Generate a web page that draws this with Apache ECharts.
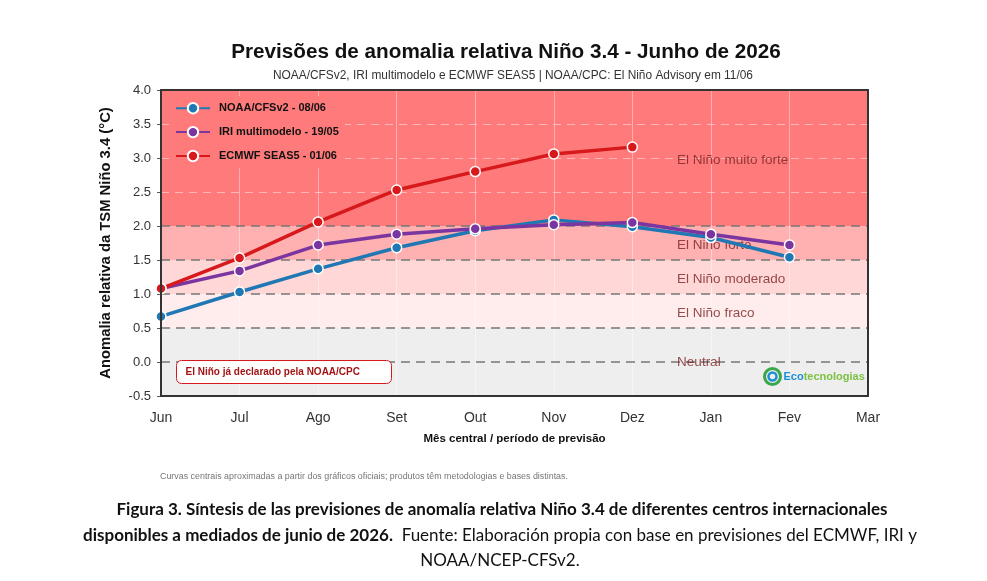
<!DOCTYPE html>
<html>
<head>
<meta charset="utf-8">
<script src="https://cdn.jsdelivr.net/npm/echarts@6/dist/echarts.min.js"></script>
<style>
  html, body { margin: 0; padding: 0; background: #fff; }
  #chart { width: 987px; height: 581px; }
</style>
</head>
<body>
<div id="chart"></div>
<script>
// meses centrais (eixo x)
const months = ['Jun', 'Jul', 'Ago', 'Set', 'Out', 'Nov', 'Dez', 'Jan', 'Fev', 'Mar'];

const noaaCfs = [0.67, 1.03, 1.37, 1.68, 1.93, 2.09, 1.99, 1.83, 1.54];
const iriMulti = [1.08, 1.34, 1.72, 1.88, 1.96, 2.02, 2.05, 1.88, 1.72];
const ecmwf = [1.08, 1.53, 2.06, 2.53, 2.80, 3.06, 3.16];

// faixas de intensidade
const bandNames = ['Neutral', 'El Niño fraco', 'El Niño moderado', 'El Niño forte', 'El Niño muito forte'];
const bandLow = [-0.5, 0.5, 1.0, 1.5, 2.0];
const bandHigh = [0.5, 1.0, 1.5, 2.0, 4.0];
const bandLabelY = [-0.01, 0.72, 1.22, 1.72, 2.97];
const bandLabelX = 6.57;
const thresholds = [0, 0.5, 1.0, 1.5, 2.0];
const faintY = [2.5, 3.0, 3.5];

const bandColors = ['#eeeeee', '#ffeded', '#ffd7d7', '#ffb0b0', '#ff7b7b'];

const chart = echarts.init(document.getElementById('chart'));

const pairs = arr => arr.map((v, i) => [i, v]);

const lineSeries = (name, data, color) => ({
  name,
  type: 'line',
  data: pairs(data),
  z: 5,
  symbol: 'circle',
  symbolSize: 10,
  lineStyle: { color, width: 3.5 },
  itemStyle: { color, borderColor: '#fff', borderWidth: 1.5 },
  emphasis: { disabled: true }
});

// eixos extras só para a moldura do gráfico
const frameAxis = { show: true, onZero: false, lineStyle: { color: '#333', width: 2 } };
const frame = (type, position, min, max) => ({
  type, position, min, max,
  axisLine: frameAxis, axisTick: { show: false }, axisLabel: { show: false }, splitLine: { show: false }, z: 20
});

const option = {
  backgroundColor: '#fff',
  animation: false,
  title: [
    {
      text: 'Previsões de anomalia relativa Niño 3.4 - Junho de 2026',
      left: 501, top: 37, textAlign: 'center',
      textStyle: { fontFamily: 'Liberation Sans', fontSize: 20.7, fontWeight: 'bold', color: '#111' }
    },
    {
      text: 'NOAA/CFSv2, IRI multimodelo e ECMWF SEAS5 | NOAA/CPC: El Niño Advisory em 11/06',
      left: 508, top: 65, textAlign: 'center',
      textStyle: { fontFamily: 'Liberation Sans', fontSize: 11.9, fontWeight: 'normal', color: '#333' }
    }
  ],
  grid: { left: 161, right: 119, top: 90, bottom: 185 },
  legend: {
    left: 170, top: 96, orient: 'vertical',
    padding: [6, 6, 6, 5],
    backgroundColor: '#ff7b7b',
    itemWidth: 34, itemHeight: 13, itemGap: 11.5,
    data: ['NOAA/CFSv2 - 08/06', 'IRI multimodelo - 19/05', 'ECMWF SEAS5 - 01/06'],
    textStyle: { fontFamily: 'Liberation Sans', fontSize: 11, fontWeight: 'bold', color: '#111', padding: [0, 0, 0, 4] }
  },
  xAxis: [
    {
      type: 'value', min: 0, max: 9, interval: 1,
      name: 'Mês central / período de previsão',
      nameLocation: 'middle', nameGap: 37,
      nameTextStyle: { fontFamily: 'Liberation Sans', fontSize: 11.5, fontWeight: 'bold', color: '#111' },
      axisLine: { show: false, onZero: false },
      axisTick: { show: false },
      axisLabel: { formatter: v => months[v] || '', fontFamily: 'Liberation Sans', fontSize: 14, color: '#333', margin: 15 },
      splitLine: { show: false }
    },
    frame('value', 'top', 0, 9),
    frame('value', 'bottom', 0, 9)
  ],
  yAxis: [
    {
      type: 'value', min: -0.5, max: 4.0, interval: 0.5,
      name: 'Anomalia relativa da TSM Niño 3.4 (°C)',
      nameLocation: 'middle', nameGap: 48, nameRotate: 90,
      nameTextStyle: { fontFamily: 'Liberation Sans', fontSize: 14.8, fontWeight: 'bold', color: '#111' },
      axisLine: { show: false, onZero: false },
      axisTick: { show: true, length: 4, lineStyle: { color: '#555' } },
      axisLabel: { formatter: v => v.toFixed(1), fontFamily: 'Liberation Sans', fontSize: 13, color: '#333', margin: 10 },
      splitLine: { show: false }
    },
    frame('value', 'right', -0.5, 4.0),
    frame('value', 'left', -0.5, 4.0)
  ],
  series: [
    {
      name: 'faixas',
      type: 'line',
      data: [],
      silent: true,
      z: 1,
      markArea: {
        silent: true,
        z: 1,
        data: bandLow.map((lo, i) => [
          { yAxis: lo, itemStyle: { color: bandColors[i] } },
          { yAxis: bandHigh[i] }
        ])
      }
    },
    {
      name: 'grade',
      type: 'line',
      data: [],
      silent: true,
      z: 2,
      markLine: {
        silent: true,
        z: 2,
        symbol: 'none',
        label: { show: false },
        data: [
          ...months.slice(1, -1).map((m, i) => ({ xAxis: i + 1, lineStyle: { color: 'rgba(255,255,255,0.4)', type: 'solid', width: 1 } })),
          ...faintY.map(v => ({ yAxis: v, lineStyle: { color: 'rgba(255,255,255,0.45)', type: [8, 6], width: 1 } }))
        ]
      }
    },
    {
      name: 'limiares',
      type: 'line',
      data: [],
      silent: true,
      z: 2,
      markLine: {
        silent: true,
        z: 2,
        symbol: 'none',
        label: { show: false },
        lineStyle: { color: '#777', type: [9, 6], width: 1.5 },
        data: thresholds.map(t => ({ yAxis: t }))
      }
    },
    {
      name: 'rotulos',
      type: 'scatter',
      silent: true,
      z: 3,
      symbolSize: 0,
      data: bandNames.map((n, i) => ({ value: [bandLabelX, bandLabelY[i]], name: n })),
      label: {
        show: true, position: 'right', distance: 0,
        formatter: p => p.name,
        fontFamily: 'Liberation Sans', fontSize: 13.5, color: '#7a2323'
      }
    },
    lineSeries('NOAA/CFSv2 - 08/06', noaaCfs, '#1f78b4'),
    lineSeries('IRI multimodelo - 19/05', iriMulti, '#7b35a0'),
    lineSeries('ECMWF SEAS5 - 01/06', ecmwf, '#d7191c')
  ],
  graphic: [
    {
      type: 'group', left: 176, top: 360,
      children: [
        { type: 'rect', z: 100, shape: { x: 0, y: 0, width: 215, height: 23, r: 5 }, style: { fill: '#fff', stroke: '#d7191c', lineWidth: 1 } },
        { type: 'text', z: 101, x: 9, y: 12, style: { text: 'El Niño já declarado pela NOAA/CPC', fontFamily: 'Liberation Sans', fontSize: 10, fontWeight: 'bold', fill: '#a31515', verticalAlign: 'middle' } }
      ]
    },
    {
      type: 'group', left: 762, top: 366,
      children: [
        { type: 'circle', z: 100, shape: { cx: 10, cy: 10, r: 8 }, style: { fill: 'none', stroke: '#3aa84a', lineWidth: 3 } },
        { type: 'circle', z: 100, shape: { cx: 10, cy: 10, r: 4 }, style: { fill: 'none', stroke: '#1c8fd6', lineWidth: 2.5 } },
        {
          type: 'text', z: 101, x: 21, y: 10,
          style: {
            text: '{a|Eco}{b|tecnologias}', verticalAlign: 'middle',
            rich: {
              a: { fontFamily: 'Liberation Sans', fontSize: 11, fontWeight: 'bold', fill: '#1c8fd6' },
              b: { fontFamily: 'Liberation Sans', fontSize: 11, fontWeight: 'bold', fill: '#7cc142' }
            }
          }
        }
      ]
    },
    {
      type: 'text', left: 160, top: 472,
      style: { text: 'Curvas centrais aproximadas a partir dos gráficos oficiais; produtos têm metodologias e bases distintas.', fontFamily: 'Liberation Sans', fontSize: 8.9, fill: '#777' }
    },
    {
      type: 'text', x: 502, y: 510,
      style: { text: 'Figura 3. Síntesis de las previsiones de anomalía relativa Niño 3.4 de diferentes centros internacionales', align: 'center', verticalAlign: 'middle', fontFamily: 'Lato', fontSize: 17, fontWeight: 'bold', fill: '#111' }
    },
    {
      type: 'text', x: 500, y: 536,
      style: {
        text: '{b|disponibles a mediados de junio de 2026.}{n|  Fuente: Elaboración propia con base en previsiones del ECMWF, IRI y}',
        align: 'center', verticalAlign: 'middle',
        rich: {
          b: { fontFamily: 'Lato', fontSize: 17, fontWeight: 'bold', fill: '#111' },
          n: { fontFamily: 'Lato', fontSize: 17, fill: '#111' }
        }
      }
    },
    {
      type: 'text', x: 500, y: 561,
      style: { text: 'NOAA/NCEP-CFSv2.', align: 'center', verticalAlign: 'middle', fontFamily: 'Lato', fontSize: 17, fill: '#111' }
    }
  ]
};

chart.setOption(option);
window.addEventListener('resize', () => chart.resize());
</script>
</body>
</html>
